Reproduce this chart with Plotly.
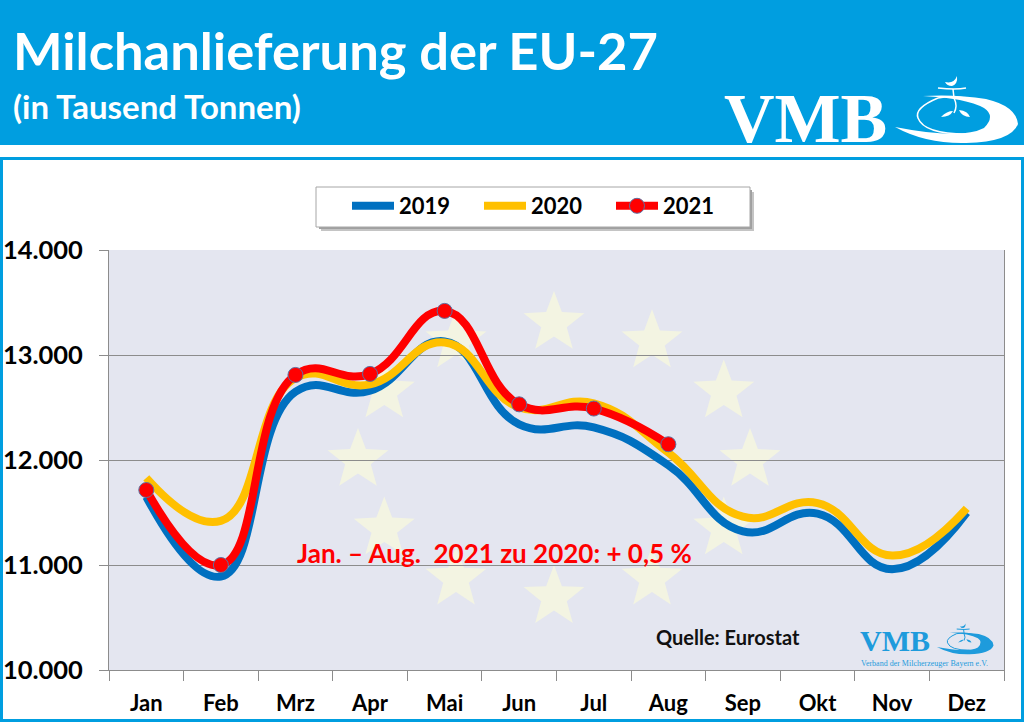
import math
import plotly.graph_objects as go

months = ["Jan", "Feb", "Mrz", "Apr", "Mai", "Jun", "Jul", "Aug", "Sep", "Okt", "Nov", "Dez"]
deliveries_2019 = [11650, 10890, 12650, 12660, 13130, 12340, 12310, 11950, 11320, 11490, 10960, 11500]
deliveries_2020 = [11830, 11420, 12780, 12720, 13120, 12500, 12540, 12070, 11460, 11590, 11090, 11540]
deliveries_2021 = [11714, 11000, 12810, 12820, 13420, 12530, 12490, 12150]
y_ticks = [10000, 11000, 12000, 13000, 14000]
y_labels = ["10.000", "11.000", "12.000", "13.000", "14.000"]

BLUE = "#009EE0"
FONT = "Lato"


# pixel position in the page -> paper coordinates of the plot area
def px(x):
    return (x - 109) / 895


def py(y):
    return (670 - y) / 420


def star_path(cx, cy, r):
    pts = []
    for i in range(10):
        rad = r if i % 2 == 0 else r * 0.42
        a = -math.pi / 2 + i * math.pi / 5
        pts.append((px(cx + rad * math.cos(a)), py(cy + rad * math.sin(a))))
    return "M " + " L ".join(f"{a:.4f},{b:.4f}" for a, b in pts) + " Z"


def rect(x0, y0, x1, y1, fill, line=None, lw=0, layer="below"):
    return dict(type="rect", xref="paper", yref="paper", x0=px(x0), x1=px(x1), y0=py(y0), y1=py(y1),
                fillcolor=fill, line=dict(color=line or fill, width=lw), layer=layer)


# the swoosh of the VMB logo, drawn around its middle (cx, cy)
def logo(cx, cy, s, color):
    def p(cmd):
        out = []
        for part in cmd:
            if isinstance(part, str):
                out.append(part)
            else:
                out.append(f"{px(cx + part[0] * s):.5f},{py(cy + part[1] * s):.5f}")
        return " ".join(out)

    filled = [
        # big swoosh
        ["M", (-61, 13), "Q", (-30, 30), (10, 29), "Q", (55, 28), (62, 10), "Q", (60, -8), (30, -15),
         "Q", (0, -20), (-33, -18), "Q", (10, -16), (28, -6), "Q", (40, 2), (28, 14), "Q", (5, 26), (-61, 13), "Z"],
        # moon
        ["M", (-11, -32), "Q", (-2, -30), (1, -38), "Q", (2, -30), (-4, -28), "Q", (-9, -28), (-11, -32), "Z"],
        # leaves
        ["M", (-15, 3), "Q", (-9, -3), (-3, -3), "Q", (-6, 3), (-15, 3), "Z"],
        ["M", (3, -4), "Q", (12, -3), (14, 3), "Q", (6, 3), (3, -4), "Z"],
    ]
    stroked = [
        # thin inner ring
        ["M", (-18, -16), "Q", (-42, -6), (-38, 4), "Q", (-32, 20), (10, 20)],
        ["M", (-18, -16), "Q", (5, -20), (30, -10)],
        # stem and bar
        ["M", (-3, -25), "L", (-2, -16), "Q", (2, -8), (-2, -1)],
        ["M", (-18, -26), "Q", (0, -24), (10, -26)],
    ]
    shapes_out = []
    for c in filled:
        shapes_out.append(dict(type="path", xref="paper", yref="paper", layer="above", path=p(c),
                               fillcolor=color, line=dict(width=0)))
    for c in stroked:
        shapes_out.append(dict(type="path", xref="paper", yref="paper", layer="above", path=p(c),
                               line=dict(color=color, width=max(1, 1.5 * s))))
    return shapes_out


fig = go.Figure()
fig.add_trace(go.Scatter(x=months, y=deliveries_2019, name="2019", mode="lines",
                         line=dict(color="#0070C0", width=8, shape="spline", smoothing=1.3)))
fig.add_trace(go.Scatter(x=months, y=deliveries_2020, name="2020", mode="lines",
                         line=dict(color="#FFC000", width=8, shape="spline", smoothing=1.3)))
fig.add_trace(go.Scatter(x=months[:8], y=deliveries_2021, name="2021", mode="lines+markers",
                         line=dict(color="#FF0000", width=8, shape="spline", smoothing=1.3),
                         marker=dict(color="#FF0000", size=15, line=dict(color="#5F6F9F", width=1))))

shapes = [
    rect(0, 0, 1024, 145, BLUE),
    rect(1.5, 158.5, 1022.5, 720.5, "#FFFFFF", BLUE, 3),
    rect(321, 192, 754, 231, "#C4C4C4"),
    rect(319, 190, 752, 229, "#A0A0A0"),
    rect(316, 187, 750, 227, "#FFFFFF", "#A6A6A6", 1),
    rect(109, 250, 1004, 670, "#E4E6F0"),
]
# EU flag behind the curves
for i in range(12):
    a = i * math.pi / 6
    shapes.append(dict(type="path", xref="paper", yref="paper", layer="below", line=dict(width=0),
                       fillcolor="#F3F4E2",
                       path=star_path(554 + 196 * math.sin(a), 460 - 137 * math.cos(a), 32)))
shapes += logo(956, 114, 1.0, "#FFFFFF")
shapes += logo(965, 641, 0.46, "#1E9BDC")


def note(x, y, text, size, color, xanchor="left", font=FONT):
    return dict(xref="paper", yref="paper", x=px(x), y=py(y), text=text, showarrow=False,
                xanchor=xanchor, yanchor="middle", borderpad=0,
                font=dict(family=font, size=size, color=color))


annotations = [
    note(12, 50, "<b>Milchanlieferung der EU-27</b>", 52.5, "#FFFFFF"),
    note(12, 106, "<b>(in Tausend Tonnen)</b>", 33, "#FFFFFF"),
    note(723, 118, "<b>VMB</b>", 70, "#FFFFFF", font="Liberation Serif"),
    note(296, 553, "<b>Jan. – Aug.  2021 zu 2020: + 0,5 %</b>", 26, "#FF0000"),
    note(655, 637, "<b>Quelle: Eurostat</b>", 20, "#111111"),
    note(859, 640, "<b>VMB</b>", 30, "#1E9BDC", font="Liberation Serif"),
    note(860, 663, "Verband der Milcherzeuger Bayern e.V.", 8, "#1E9BDC", font="Liberation Serif"),
]

fig.update_layout(
    width=1024, height=722, margin=dict(l=109, r=20, t=250, b=52, autoexpand=False),
    paper_bgcolor="#FFFFFF", plot_bgcolor="#E4E6F0",
    font=dict(family=FONT, color="#000000"),
    shapes=shapes, annotations=annotations,
    legend=dict(orientation="h", x=px(347), y=py(206), xanchor="left", yanchor="middle",
                font=dict(family=FONT, size=22, weight="bold"), itemwidth=42,
                entrywidthmode="pixels", entrywidth=75,
                bgcolor="rgba(0,0,0,0)", traceorder="normal"),
)
fig.update_xaxes(range=[-0.5, 11.5], type="category", tickson="boundaries", ticks="outside", ticklen=10,
                 tickcolor="#8C8C8C", showline=True, linecolor="#8C8C8C", linewidth=1, showgrid=False,
                 ticklabelstandoff=14, tickfont=dict(family=FONT, size=22, weight="bold"))
fig.update_yaxes(range=[10000, 14000], tickvals=y_ticks, ticktext=y_labels, ticks="outside", ticklen=9,
                 tickcolor="#8C8C8C", showline=True, linecolor="#8C8C8C", linewidth=1, mirror=True,
                 gridcolor="#8C8C8C", gridwidth=1, zeroline=False, ticklabelstandoff=11,
                 tickfont=dict(family=FONT, size=25.5, weight="bold"))

fig.write_html("out.html", config={"displayModeBar": False},
               post_script="document.body.style.margin='0';document.body.style.overflow='hidden';")
